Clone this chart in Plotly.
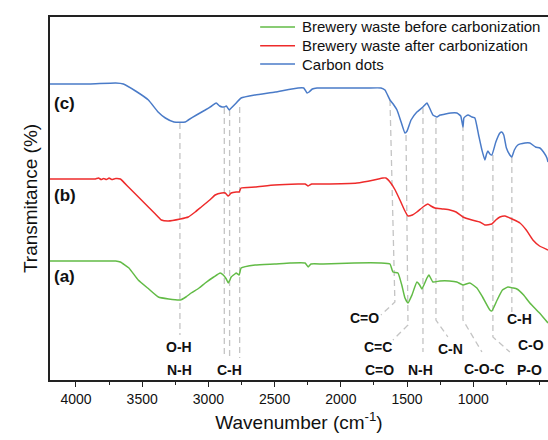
import plotly.graph_objects as go

# ---------------- data (wavenumber cm-1, transmittance in arbitrary offset units) --------------
wn_c = [4196, 3900, 3700, 3642, 3550, 3453, 3380, 3325, 3260, 3175, 3152, 3090, 3024, 2975, 2941,
        2915, 2895, 2880, 2865, 2843, 2820, 2790, 2753, 2647, 2496, 2323, 2280, 2255, 2240, 2215,
        2180, 2000, 1800, 1697, 1667, 1629, 1600, 1576, 1545, 1516, 1500, 1470, 1426, 1380, 1350,
        1330, 1305, 1275, 1250, 1170, 1124, 1095, 1078, 1071, 1055, 1040, 1010, 988, 960, 935, 913,
        900, 890, 875, 860, 830, 799, 785, 770, 750, 724, 709, 690, 664, 610, 573, 530, 497, 470,
        444, 436]
t_c = [296, 296, 297, 296, 289, 280, 268, 262, 258, 258, 260, 265, 270, 274, 277,
       274, 273, 273, 274, 270, 273, 277, 282, 285, 288, 292, 292, 287, 288, 291,
       292, 292, 292, 292, 290, 280, 275, 270, 258, 247, 249, 260, 268, 273, 277,
       272, 265, 263, 265, 267, 267, 264, 253, 262, 264, 265, 263, 262, 245, 230, 220,
       226, 229, 226, 225, 238, 247, 248, 245, 232, 225, 223, 230, 235, 237, 237, 233, 232, 228,
       222, 218]

wn_b = [4196, 3900, 3853, 3830, 3810, 3790, 3770, 3750, 3730, 3700, 3665, 3604, 3506, 3408, 3355,
        3303, 3212, 3152, 3100, 3054, 2990, 2949, 2900, 2873, 2850, 2828, 2790, 2768, 2753, 2647,
        2500, 2323, 2270, 2247, 2220, 2134, 1878, 1750, 1682, 1660, 1629, 1590, 1554, 1520, 1493,
        1460, 1426, 1380, 1343, 1320, 1290, 1230, 1177, 1130, 1078, 1010, 951, 913, 860, 830, 799,
        760, 724, 690, 648, 600, 550, 500, 436]
t_b = [201, 201, 201, 202, 200.5, 201.5, 200.5, 202, 200.5, 201.5, 201, 193, 180, 167, 160,
       159, 161, 163, 168, 173, 180, 185, 187, 187, 184, 187, 188, 188, 192, 193,
       195, 196, 196, 194, 196, 196, 197, 200, 202, 202, 198, 190, 180, 170, 164,
       165, 168, 173, 176, 174, 172, 171, 170, 168, 163, 160, 158, 155, 156, 160, 163,
       164, 162, 160, 157, 150, 140, 134, 130]

wn_a = [4196, 3900, 3700, 3665, 3600, 3530, 3450, 3378, 3300, 3212, 3170, 3130, 3070, 3024, 2960,
        2911, 2888, 2865, 2850, 2838, 2828, 2800, 2790, 2768, 2753, 2647, 2500, 2383, 2270, 2247,
        2225, 2134, 1900, 1700, 1629, 1607, 1569, 1540, 1516, 1493, 1463, 1426, 1405, 1388, 1350,
        1335, 1305, 1252, 1180, 1124, 1078, 1026, 973, 930, 875, 860, 820, 780, 739, 700, 671,
        620, 573, 500, 436]
t_a = [119, 119, 119, 118, 112, 100, 91, 83, 81, 80, 83, 87, 92, 97, 103,
       107, 105, 101, 97, 100, 103, 106, 107, 105, 112, 115, 116, 117, 117, 113,
       116, 116, 117, 117, 116, 108, 107, 95, 82, 77, 85, 98, 95, 91, 102,
       105, 98, 99, 99, 98, 95, 97, 92, 83, 70, 69, 80, 90, 93, 92, 91,
       85, 77, 67, 57]

series_names = ["Brewery waste before carbonization", "Brewery waste after carbonization", "Carbon dots"]
series_colors = ["#62bb46", "#ee2b2b", "#4a7bc8"]

x_ticks = [4000, 3500, 3000, 2500, 2000, 1500, 1000]

# peak guide lines (polylines: wavenumber, transmittance)
guide_wn = [[3215, 3215], [2880, 2880], [2840, 2840], [2764, 2764],
            [1629, 1592, 1697], [1508, 1493, 1607], [1380, 1380],
            [1282, 1282, 1192], [1078, 1078, 935], [852, 852, 724], [709, 709]]
guide_t = [[257, 45], [272, 23], [270, 23], [273, 22],
           [280, 78, 65], [245, 55, 40], [272, 28],
           [262, 60, 43], [255, 60, 28], [225, 43, 28], [223, 68]]

bond_labels = ["O-H", "N-H", "C-H", "C=O", "C=C", "C=O", "N-H", "C-N", "C-O-C", "C-H", "C-O", "P-O"]
bond_wn = [3220, 3220, 2843, 1818, 1720, 1712, 1396, 1170, 921, 648, 565, 573]
bond_t = [33, 10, 10, 62, 33, 10, 10, 31, 11, 61, 35, 10]

curve_tags = ["(a)", "(b)", "(c)"]
tag_t = [104, 185, 277]

# ---------------- figure ----------------
FONT = "Liberation Sans, Arial, sans-serif"
fig = go.Figure()

for wn, t, name, col in [(wn_a, t_a, series_names[0], series_colors[0]),
                         (wn_b, t_b, series_names[1], series_colors[1]),
                         (wn_c, t_c, series_names[2], series_colors[2])]:
    fig.add_trace(go.Scatter(x=wn, y=t, mode="lines", name=name, showlegend=False,
                             line=dict(color=col, width=1.5, shape="spline", smoothing=0.4)))

shapes = []
for gx, gy in zip(guide_wn, guide_t):
    path = "M " + " L ".join(f"{a},{b}" for a, b in zip(gx, gy))
    shapes.append(dict(type="path", path=path, xref="x", yref="y", layer="below",
                       line=dict(color="#c4c4c4", width=1.3, dash="6px,4px")))

annotations = []
for lab, x, y in zip(bond_labels, bond_wn, bond_t):
    annotations.append(dict(x=x, y=y, xref="x", yref="y", text=f"<b>{lab}</b>", showarrow=False,
                            font=dict(family=FONT, size=14, color="#111")))
for lab, y in zip(curve_tags, tag_t):
    annotations.append(dict(x=4178, y=y, xref="x", yref="y", text=f"<b>{lab}</b>", showarrow=False,
                            xanchor="left", font=dict(family=FONT, size=17, color="#111")))

# legend drawn as line samples + text (paper coords)
leg_x0, leg_x1, leg_tx = 0.422, 0.492, 0.502
leg_y = [0.9725, 0.921, 0.8705]
for name, col, ly in zip(series_names, series_colors, leg_y):
    shapes.append(dict(type="line", xref="paper", yref="paper", x0=leg_x0, x1=leg_x1, y0=ly, y1=ly,
                       line=dict(color=col, width=1.5)))
    annotations.append(dict(x=leg_tx, y=ly, xref="paper", yref="paper", text=name, showarrow=False,
                            xanchor="left", yanchor="middle",
                            font=dict(family=FONT, size=15, color="#111")))

fig.update_layout(
    width=548, height=440,
    margin=dict(l=50, r=0, t=17, b=60),
    paper_bgcolor="white", plot_bgcolor="white",
    font=dict(family=FONT, color="#111"),
    shapes=shapes, annotations=annotations,
    showlegend=False,
    xaxis=dict(range=[4196, 436], tickvals=x_ticks, ticks="outside", ticklen=5, tickwidth=1.2,
               tickcolor="#222", showline=True, linecolor="#222", linewidth=1.5, mirror=True,
               showgrid=False, zeroline=False, tickfont=dict(family=FONT, size=14, color="#111"),
               minor=dict(dtick=250, tick0=750, ticks="outside", ticklen=3, tickcolor="#222"),
               title=dict(text="Wavenumber (cm<sup>-1</sup>)", font=dict(family=FONT, size=19, color="#111"),
                          standoff=10)),
    yaxis=dict(range=[0, 363], showticklabels=False, ticks="", showline=True, linecolor="#222",
               linewidth=1.5, mirror=False, showgrid=False, zeroline=False,
               title=dict(text="Transmitance (%)", font=dict(family=FONT, size=19, color="#111"),
                          standoff=6)),
)

fig.write_html("out.html", config={"displayModeBar": False},
               post_script="document.body.style.margin='0px';")
